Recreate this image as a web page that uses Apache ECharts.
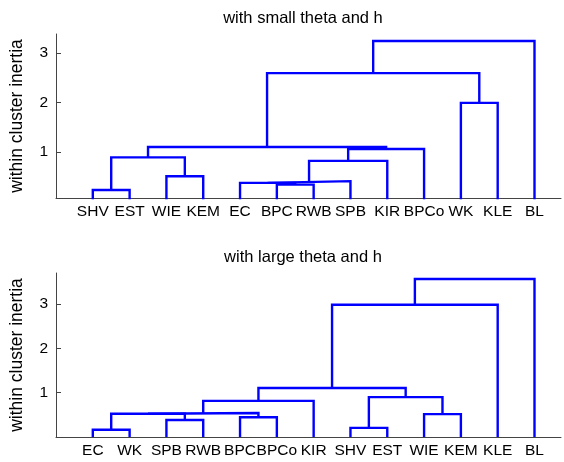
<!DOCTYPE html>
<html><head><meta charset="utf-8">
<script src="https://cdn.jsdelivr.net/npm/echarts@6/dist/echarts.min.js"></script>
<style>html,body{margin:0;padding:0;background:#fff}#c{width:564px;height:462px}</style>
</head><body><div id="c"></div>
<script>
// ---- data: top dendrogram ----
const titleTop = 'with small theta and h';
const leavesTop = ['SHV','EST','WIE','KEM','EC','BPC','RWB','SPB','KIR','BPCo','WK','KLE','BL'];
const linkLeftTop  = ['SHV','WIE','c0','BPC','EC','c4','c5','c6','c2','WK','c8','c10'];
const linkRightTop = ['EST','KEM','c1','RWB','c3','SPB','KIR','BPCo','c7','KLE','c9','BL'];
const heightsTop   = [0.23, 0.51, 0.89, 0.34, 0.375, 0.41, 0.82, 1.06, 1.10, 1.99, 2.59, 3.24];

// ---- data: bottom dendrogram ----
const titleBottom = 'with large theta and h';
const leavesBottom = ['EC','WK','SPB','RWB','BPC','BPCo','KIR','SHV','EST','WIE','KEM','KLE','BL'];
const linkLeftBottom  = ['EC','SPB','BPC','c0','c3','c4','SHV','WIE','c6','c5','c9','c10'];
const linkRightBottom = ['WK','RWB','BPCo','c1','c2','KIR','EST','KEM','c7','c8','KLE','BL'];
const heightsBottom   = [0.165, 0.385, 0.445, 0.525, 0.54, 0.815, 0.205, 0.515, 0.9, 1.105, 2.985, 3.565];

const yTicks = [1, 2, 3];
const yName = 'within cluster inertia';

const FONT = "'Liberation Sans', Arial, sans-serif";
const BLUE = '#0000ff';

function buildLinks(leaves, L, R, H) {
  const pos = {}, hgt = {};
  leaves.forEach((n, i) => { pos[n] = i + 1; hgt[n] = 0; });
  const out = [];
  for (let i = 0; i < H.length; i++) {
    const xl = pos[L[i]], xr = pos[R[i]];
    out.push([[xl, hgt[L[i]]], [xl, H[i]], [xr, H[i]], [xr, hgt[R[i]]]]);
    pos['c' + i] = (xl + xr) / 2; hgt['c' + i] = H[i];
  }
  return out;
}

function xAxisFor(idx, leaves) {
  return {
    gridIndex: idx, type: 'value', min: 0, max: 13.72, interval: 1,
    axisLine: { onZero: false, lineStyle: { color: '#444', width: 1 } },
    axisTick: { show: false }, splitLine: { show: false },
    axisLabel: {
      fontFamily: FONT, fontSize: 15.5, color: '#000', margin: 6,
      formatter: v => (Number.isInteger(v) && v >= 1 && v <= leaves.length) ? leaves[v - 1] : ''
    }
  };
}
function yAxisFor(idx, min, max) {
  return {
    gridIndex: idx, type: 'value', min: min, max: max,
    name: yName, nameLocation: 'middle', nameGap: 30, nameRotate: 90,
    nameTextStyle: { fontFamily: FONT, fontSize: 17.5, color: '#000' },
    axisLine: { show: true, onZero: false, lineStyle: { color: '#444', width: 1 } },
    axisTick: { show: true, inside: true, length: 5, customValues: yTicks, lineStyle: { color: '#444' } },
    axisLabel: { fontFamily: FONT, fontSize: 15.5, color: '#000', margin: 8, customValues: yTicks },
    splitLine: { show: false }
  };
}

const series = [];
function addSeries(links, idx) {
  links.forEach(pts => series.push({
    type: 'line', xAxisIndex: idx, yAxisIndex: idx, data: pts,
    symbol: 'none', silent: true, clip: true, animation: false,
    lineStyle: { color: BLUE, width: 2.4, join: 'miter' }
  }));
}
addSeries(buildLinks(leavesTop, linkLeftTop, linkRightTop, heightsTop), 0);
addSeries(buildLinks(leavesBottom, linkLeftBottom, linkRightBottom, heightsBottom), 1);

const chart = echarts.init(document.getElementById('c'), null, { renderer: 'canvas' });
chart.setOption({
  backgroundColor: '#fff',
  animation: false,
  title: [
    { text: titleTop, left: 298, top: 5, textAlign: 'center',
      textStyle: { fontFamily: FONT, fontSize: 16.5, fontWeight: 'normal', color: '#000' } },
    { text: titleBottom, left: 298, top: 244, textAlign: 'center',
      textStyle: { fontFamily: FONT, fontSize: 16.5, fontWeight: 'normal', color: '#000' } }
  ],
  grid: [
    { left: 52, right: 0, top: 34, height: 164 },
    { left: 52, right: 0, top: 273, height: 164 }
  ],
  xAxis: [xAxisFor(0, leavesTop), xAxisFor(1, leavesBottom)],
  yAxis: [yAxisFor(0, 0.07, 3.38), yAxisFor(1, 0, 3.7)],
  series: series
});
</script></body></html>
